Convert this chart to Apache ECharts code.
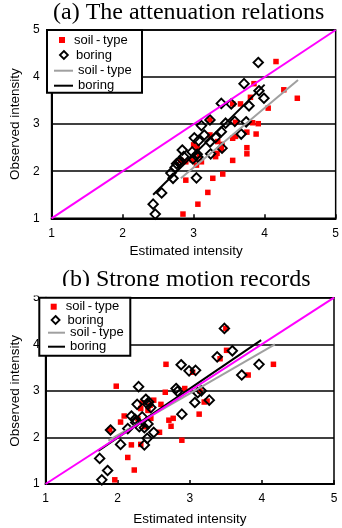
<!DOCTYPE html>
<html>
<head>
<meta charset="utf-8">
<script src="https://cdn.jsdelivr.net/npm/echarts@6/dist/echarts.min.js"></script>
<style>
  html, body { margin: 0; padding: 0; background: #fff; }
  #chart { width: 342px; height: 528px; }
</style>
</head>
<body>
<div id="chart"></div>
<script>
const axisTicks = [1, 2, 3, 4, 5]
const diagonal = [[1, 1], [5, 5]]

// (a) The attenuation relations
const soilA = [
  [4.16, 4.33], [3.85, 3.86], [4.27, 3.73], [4.46, 3.55], [3.80, 3.57], [4.05, 3.34],
  [3.66, 3.43], [3.55, 3.43], [3.83, 3.03], [3.91, 3.01], [3.75, 2.83], [3.88, 2.79],
  [3.55, 2.70], [3.59, 2.74], [3.23, 3.09], [3.23, 2.77], [3.34, 2.63], [3.75, 2.50],
  [3.75, 2.37], [3.39, 2.47], [3.33, 2.38], [3.31, 2.31], [3.55, 2.23], [3.41, 1.94],
  [3.27, 1.85], [2.89, 1.81], [3.20, 1.55], [3.06, 1.30], [2.85, 1.09], [3.05, 2.50],
  [3.08, 2.33], [3.11, 2.20], [3.04, 2.13], [2.98, 2.24], [2.89, 2.20], [2.82, 2.23],
  [3.59, 3.04], [3.40, 2.57], [3.00, 2.56]
]
const boringA = [
  [3.91, 4.31], [3.71, 3.86], [3.92, 3.71], [3.99, 3.55], [3.78, 3.39], [3.53, 3.43],
  [3.39, 3.44], [3.23, 3.09], [3.11, 2.97], [3.45, 3.02], [3.58, 3.06], [3.74, 3.05],
  [3.39, 2.84], [3.31, 2.72], [3.15, 2.77], [3.01, 2.71], [3.07, 2.65], [3.23, 2.62],
  [3.67, 2.79], [3.40, 2.49], [3.24, 2.37], [2.84, 2.45], [2.98, 2.41], [3.05, 2.36],
  [2.86, 2.31], [2.81, 2.22], [2.76, 2.16], [2.74, 2.08], [2.68, 1.96], [2.71, 1.85],
  [3.04, 1.86], [2.55, 1.54], [2.43, 1.30], [2.46, 1.09], [2.99, 2.26], [3.06, 2.30],
  [2.79, 2.19]
]
const soilFitA = [[2.82, 1.85], [4.47, 3.94]]
const boringFitA = [[2.43, 1.50], [4.00, 3.84]]

// (b) Strong motion records
const soilB = [
  [3.50, 4.34], [3.51, 3.87], [3.42, 3.69], [3.81, 3.34], [4.16, 3.57], [2.67, 3.57],
  [3.04, 3.40], [1.98, 3.10], [2.93, 3.05], [2.66, 2.97], [2.50, 2.80], [2.60, 2.71],
  [3.20, 2.76], [3.13, 2.50], [2.09, 2.46], [2.04, 2.33], [1.89, 2.16], [2.46, 2.41],
  [2.71, 2.37], [2.77, 2.41], [2.74, 2.24], [2.58, 2.11], [2.89, 1.94], [2.32, 1.85],
  [2.19, 1.84], [2.14, 1.57], [2.23, 1.30], [1.96, 1.09], [2.34, 2.74], [2.42, 2.58],
  [2.32, 2.62], [2.37, 2.23], [2.45, 2.69], [3.24, 2.78], [3.14, 3.00], [2.28, 2.40]
]
const boringB = [
  [3.48, 4.34], [3.59, 3.86], [3.38, 3.73], [3.96, 3.57], [3.72, 3.34], [3.08, 3.44],
  [2.99, 3.43], [2.88, 3.56], [2.29, 3.09], [2.81, 3.05], [2.83, 2.99], [3.16, 3.00],
  [3.11, 2.96], [3.07, 2.75], [3.27, 2.80], [2.89, 2.50], [2.39, 2.82], [2.42, 2.71],
  [2.27, 2.71], [2.46, 2.64], [2.34, 2.44], [2.19, 2.46], [2.24, 2.39], [2.30, 2.23],
  [2.42, 2.29], [2.37, 2.21], [2.50, 2.11], [2.41, 1.98], [2.37, 1.84], [2.14, 2.19],
  [1.90, 2.16], [2.04, 1.85], [1.75, 1.55], [1.86, 1.29], [1.78, 1.09], [2.43, 2.76],
  [2.25, 2.32]
]
const soilFitB = [[1.87, 1.93], [4.18, 4.00]]
const boringFitB = [[1.73, 1.71], [3.99, 4.09]]

const sans = 'Liberation Sans'
const serif = 'Liberation Serif'
const ZW = '\u200b'   // line series need their own legend entry

const chart = echarts.init(document.getElementById('chart'))

function axisX(idx, padRight, gap) {
  return {
    type: 'value', gridIndex: idx,
    min: axisTicks[0], max: axisTicks[axisTicks.length - 1], interval: 1,
    name: 'Estimated intensity', nameLocation: 'middle', nameGap: gap,
    nameTextStyle: { fontFamily: sans, fontSize: 13.5, color: '#000', padding: [0, padRight, 0, 0] },
    axisLine: { lineStyle: { color: '#000', width: 2 } },
    axisTick: { inside: true, length: 4, lineStyle: { color: '#000', width: 1.5 } },
    axisLabel: { fontFamily: sans, fontSize: 12, color: '#000', margin: 9 },
    splitLine: { show: false }
  }
}
function axisY(idx, gap, margin) {
  return {
    type: 'value', gridIndex: idx,
    min: axisTicks[0], max: axisTicks[axisTicks.length - 1], interval: 1,
    name: 'Observed intensity', nameLocation: 'middle', nameGap: gap,
    nameTextStyle: { fontFamily: sans, fontSize: 13.5, color: '#000' },
    axisLine: { lineStyle: { color: '#000', width: 2 } },
    axisTick: { show: false },
    axisLabel: { fontFamily: sans, fontSize: 12, color: '#000', margin: margin },
    splitLine: { lineStyle: { color: '#000', width: 1.5 } }
  }
}
function series(idx, soil, boring, soilFit, boringFit) {
  const base = { xAxisIndex: idx, yAxisIndex: idx, animation: false }
  return [
    { ...base, type: 'scatter', name: 'soil-type', data: soil, symbol: 'rect', symbolSize: 5.5,
      itemStyle: { color: '#ff0000', opacity: 1 } },
    { ...base, type: 'scatter', name: 'boring', data: boring, symbol: 'diamond', symbolSize: 9.5,
      itemStyle: { color: 'rgba(0,0,0,0)', borderColor: '#000', borderWidth: 1.9, opacity: 1 } },
    { ...base, type: 'line', name: 'soil-type' + ZW, data: soilFit, symbol: 'none',
      lineStyle: { color: '#a0a0a0', width: 2 }, itemStyle: { color: '#a0a0a0' } },
    { ...base, type: 'line', name: 'boring' + ZW, data: boringFit, symbol: 'none',
      lineStyle: { color: '#000', width: 2 }, itemStyle: { color: '#000' } },
    { ...base, type: 'line', name: 'diag', data: diagonal, symbol: 'none', silent: true,
      lineStyle: { color: '#ff00ff', width: 2 } }
  ]
}
function legendItem(name, icon, left, top, w, h, extra) {
  return {
    data: [{ name: name, icon: icon }], left: left, top: top - 6.5,
    itemWidth: w, itemHeight: h, padding: 0, selectedMode: false, symbolKeepAspect: true,
    textStyle: { fontFamily: sans, fontSize: 13, color: '#000' },
    formatter: n => n.replace(ZW, '').replace('-', '\u2009-\u2009'),
    ...extra
  }
}
const squareIcon = 'path://M0,0H10V10H0Z'
const diamondIcon = 'path://M5,0L10,5L5,10L0,5Z'
const lineIcon = 'path://M0,0H20V2H0Z'
const lineLegend = { symbolKeepAspect: false, itemStyle: { borderWidth: 0 } }

const option = {
  backgroundColor: '#fff',
  animation: false,
  title: [
    { text: '(a) The attenuation relations', left: 53, top: 1, padding: 0,
      textStyle: { fontFamily: serif, fontSize: 24, fontWeight: 'normal', color: '#000' } },
    { text: '(b) Strong motion records', left: 62, top: 268, padding: 0,
      textStyle: { fontFamily: serif, fontSize: 24, fontWeight: 'normal', color: '#000' } }
  ],
  grid: [
    { left: 46.7, top: 30, width: 293.3, height: 188.3, show: true, borderColor: '#000', borderWidth: 1.5 },
    { left: 39.3, top: 297.7, width: 294.7, height: 186.3, show: true, borderColor: '#000', borderWidth: 1.5 }
  ],
  xAxis: [axisX(0, 15, 26), axisX(1, 0, 28)],
  yAxis: [axisY(0, 21, 12), axisY(1, 23, 6)],
  legend: [
    legendItem('soil-type', squareIcon, 59, 40, 14, 6),
    legendItem('boring', diamondIcon, 59, 55, 14, 8, { itemStyle: { borderWidth: 1.8 } }),
    legendItem('soil-type' + ZW, lineIcon, 54, 70.7, 19, 2, lineLegend),
    legendItem('boring' + ZW, lineIcon, 54, 85.7, 19, 2, lineLegend),
    legendItem('soil-type', squareIcon, 50.7, 306.7, 14, 6),
    legendItem('boring', diamondIcon, 50.7, 320, 14, 8, { itemStyle: { borderWidth: 1.8 } }),
    legendItem('soil-type' + ZW, lineIcon, 48, 332.7, 17, 2, lineLegend),
    legendItem('boring' + ZW, lineIcon, 48, 346.7, 17, 2, lineLegend)
  ],
  graphic: [
    { type: 'rect', z: 3, shape: { x: 47, y: 30, width: 95, height: 62.7 },
      style: { fill: '#fff', stroke: '#000', lineWidth: 2 } },
    { type: 'rect', z: 3, shape: { x: 39.3, y: 297.7, width: 91, height: 58 },
      style: { fill: '#fff', stroke: '#000', lineWidth: 2 } },
    { type: 'rect', z: 10, shape: { x: 0, y: 286, width: 342, height: 9.5 },
      style: { fill: '#fff' } }
  ],
  series: [
    ...series(0, soilA, boringA, soilFitA, boringFitA),
    ...series(1, soilB, boringB, soilFitB, boringFitB)
  ]
}
chart.setOption(option)
</script>
</body>
</html>
